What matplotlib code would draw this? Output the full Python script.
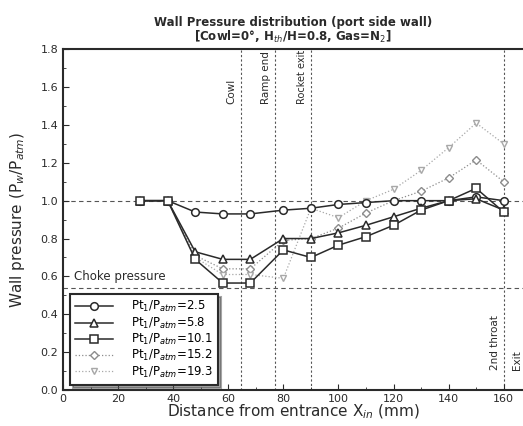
import numpy as np
import matplotlib
matplotlib.use("Agg")
import matplotlib.pyplot as plt
from matplotlib.ticker import MultipleLocator, FormatStrFormatter

# measurement stations (mm)
x_pos = [28, 38, 48, 58, 68, 80, 90, 100, 110, 120, 130, 140, 150, 160]

# Pw/Patm for each Pt1/Patm
p_25 = [1.0, 1.0, 0.94, 0.93, 0.93, 0.95, 0.96, 0.98, 0.99, 1.0, 1.0, 1.0, 1.02, 1.0]
p_58 = [1.0, 1.0, 0.73, 0.69, 0.69, 0.80, 0.80, 0.83, 0.87, 0.915, 0.96, 1.0, 1.01, 0.95]
p_101 = [1.0, 1.0, 0.69, 0.565, 0.565, 0.74, 0.70, 0.765, 0.81, 0.87, 0.95, 1.0, 1.065, 0.94]
p_152 = [1.0, 1.0, 0.71, 0.64, 0.64, 0.79, 0.80, 0.855, 0.935, 1.0, 1.05, 1.12, 1.215, 1.10]
p_193 = [1.0, 1.0, 0.70, 0.61, 0.61, 0.59, 0.96, 0.91, 1.0, 1.06, 1.16, 1.28, 1.41, 1.30]

labels = ["Pt$_1$/P$_{atm}$=2.5", "Pt$_1$/P$_{atm}$=5.8", "Pt$_1$/P$_{atm}$=10.1",
          "Pt$_1$/P$_{atm}$=15.2", "Pt$_1$/P$_{atm}$=19.3"]

# reference stations
stations = [64.5, 77, 90, 160]
station_names = ["Cowl", "Ramp end", "Rocket exit", "2nd throat"]
choke_p = 0.54

fig = plt.figure(figsize=(5.23, 4.26), dpi=100)
ax = fig.add_axes([0.1205, 0.0845, 0.8795, 0.80])

ink = "#2a2a2a"
ax.plot(x_pos, p_25, color=ink, lw=1.1, marker="o", ms=5.5, mfc="white", mec=ink, mew=1.1, label=labels[0], zorder=5)
ax.plot(x_pos, p_58, color=ink, lw=1.1, marker="^", ms=5.5, mfc="white", mec=ink, mew=1.1, label=labels[1], zorder=5)
ax.plot(x_pos, p_101, color=ink, lw=1.1, marker="s", ms=5.5, mfc="white", mec=ink, mew=1.1, label=labels[2], zorder=5)
ax.plot(x_pos, p_152, color="#8c8c8c", lw=0.9, ls=":", marker="D", ms=4, mfc="white", mec="#8c8c8c", mew=1.0, label=labels[3], zorder=4)
ax.plot(x_pos, p_193, color="#a8a8a8", lw=0.9, ls=":", marker="v", ms=5, mfc="white", mec="#a8a8a8", mew=1.0, label=labels[4], zorder=4)

# reference lines
ax.axhline(1.0, color="#555555", lw=0.8, ls=(0, (4, 3)), zorder=1)
ax.axhline(choke_p, color="#555555", lw=0.8, ls=(0, (4, 3)), zorder=1)
for xs in stations:
    ax.axvline(xs, color="#555555", lw=0.8, ls=(0, (2, 2)), zorder=1)

ax.text(stations[0] - 1.5, 1.51, station_names[0], rotation=90, ha="right", va="bottom", fontsize=7.5, color=ink)
ax.text(stations[1] - 1.5, 1.51, station_names[1], rotation=90, ha="right", va="bottom", fontsize=7.5, color=ink)
ax.text(stations[2] - 1.5, 1.51, station_names[2], rotation=90, ha="right", va="bottom", fontsize=7, color=ink)
ax.text(stations[3] - 1.5, 0.105, station_names[3], rotation=90, ha="right", va="bottom", fontsize=7.5, color=ink)
ax.text(166.5, 0.105, "Exit", rotation=90, ha="right", va="bottom", fontsize=7.5, color=ink, clip_on=False)
ax.text(4, choke_p + 0.025, "Choke pressure", fontsize=8.5, color=ink, va="bottom")

ax.set_xlim(0, 167)
ax.set_ylim(0, 1.8)
ax.xaxis.set_major_locator(MultipleLocator(20))
ax.xaxis.set_minor_locator(MultipleLocator(10))
ax.yaxis.set_major_locator(MultipleLocator(0.2))
ax.yaxis.set_minor_locator(MultipleLocator(0.1))
ax.yaxis.set_major_formatter(FormatStrFormatter("%.1f"))
ax.tick_params(which="both", direction="in", labelsize=8, colors=ink)
ax.tick_params(which="major", length=4)
ax.tick_params(which="minor", length=2)
ax.tick_params(axis="x", pad=3)
ax.spines["right"].set_visible(False)
for s in ["left", "bottom", "top"]:
    ax.spines[s].set_linewidth(1.5)
    ax.spines[s].set_color(ink)

ax.set_xlabel("Distance from entrance X$_{in}$ (mm)", fontsize=11, color=ink, labelpad=-1)
ax.set_ylabel("Wall pressure (P$_w$/P$_{atm}$)", fontsize=11, color=ink, labelpad=10)
ax.set_title("Wall Pressure distribution (port side wall)\n[Cowl=0°, H$_{th}$/H=0.8, Gas=N$_2$]",
             fontsize=8.5, fontweight="bold", color=ink, pad=6, linespacing=1.0)

leg = ax.legend(loc="lower left", bbox_to_anchor=(0.015, 0.015), borderaxespad=0, fontsize=8.5,
                handlelength=3.2, handletextpad=1.5, labelspacing=0.1, fancybox=False, shadow=True,
                framealpha=1, edgecolor=ink, borderpad=0.45)
leg.get_frame().set_linewidth(1.5)

fig.savefig("out.png", dpi=100)
